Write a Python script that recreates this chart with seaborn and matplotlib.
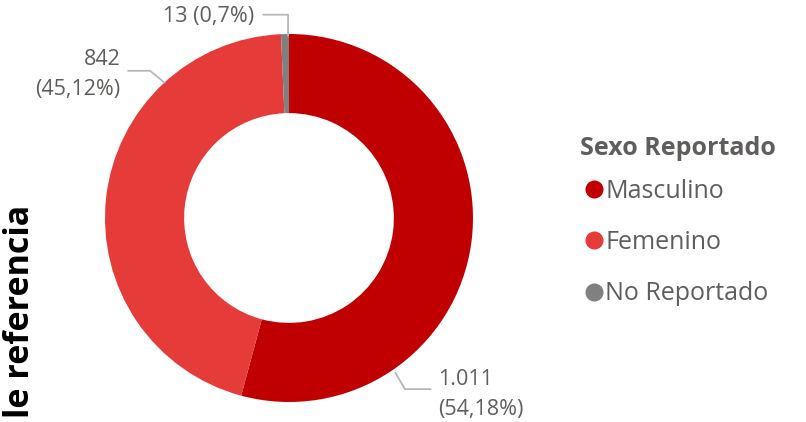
import matplotlib
matplotlib.use("Agg")
import matplotlib.pyplot as plt
import numpy as np
import seaborn as sns
from matplotlib.lines import Line2D

# datos
categorias = ["Masculino", "Femenino", "No Reportado"]
valores = [1011, 842, 13]
porcentajes = ["54,18%", "45,12%", "0,7%"]
etiquetas = ["1.011\n(54,18%)", "842\n(45,12%)", "13 (0,7%)"]
colores = ["#C00000", "#E53B39", "#808080"]

sns.set_theme(style="white")
plt.rcParams["font.family"] = ["Open Sans", "DejaVu Sans"]

gris_texto = "#605E5C"
gris_linea = "#B8B8B8"

fig = plt.figure(figsize=(8.06, 4.22), dpi=100)
ax = fig.add_axes([105 / 806, 20 / 422, 368 / 806, 368 / 422])

ax.pie(
    valores,
    colors=sns.color_palette(colores),
    startangle=90,
    counterclock=False,
    radius=1,
    wedgeprops=dict(width=0.43, edgecolor="none"),
)
ax.set_xlim(-1, 1)
ax.set_ylim(-1, 1)
ax.set_aspect("equal")
ax.axis("off")

# posiciones de etiquetas (estilo)
# (angulo inicio, radio inicio, punto codo, fin horizontal, posicion texto, alineacion)
guias = [
    (-55.5, 1.02, (0.63, -0.93), (0.77, -0.93), (0.81, -0.96), "left"),
    (132.6, 1.0, (-0.755, 0.80), (-0.875, 0.80), (-0.915, 0.78), "right"),
    (90.3, 0.99, (-0.005, 1.105), (-0.14, 1.105), (-0.19, 1.093), "right"),
]
for texto, (ang, r, codo, fin, pos, ha) in zip(etiquetas, guias):
    x0 = r * np.cos(np.radians(ang))
    y0 = r * np.sin(np.radians(ang))
    ax.plot([x0, codo[0], fin[0]], [y0, codo[1], fin[1]],
            color=gris_linea, lw=1.3, clip_on=False)
    ax.text(pos[0], pos[1], texto, ha=ha, va="center", fontsize=15.5,
            color=gris_texto, linespacing=1.6, clip_on=False)

# leyenda
handles = [
    Line2D([0], [0], marker="o", linestyle="none", markersize=13,
           markerfacecolor=c, markeredgecolor="none")
    for c in colores
]
fig.text(580 / 806, 1 - 148 / 422, "Sexo Reportado", ha="left", va="center",
         fontsize=18, fontweight="bold", color=gris_texto)
leg = fig.legend(
    handles,
    categorias,
    loc="upper left",
    bbox_to_anchor=(574 / 806, 1 - 166 / 422),
    frameon=False,
    fontsize=18,
    handlelength=0.6,
    handletextpad=0.15,
    labelspacing=1.06,
    borderpad=0,
)
for t in leg.get_texts():
    t.set_color(gris_texto)

# titulo de eje recortado
fig.text(20 / 806, 4 / 422, "le referencia", rotation=90, ha="center",
         va="bottom", fontsize=24.5, fontweight="bold", color="#000000")

fig.savefig("out.png", dpi=100)
